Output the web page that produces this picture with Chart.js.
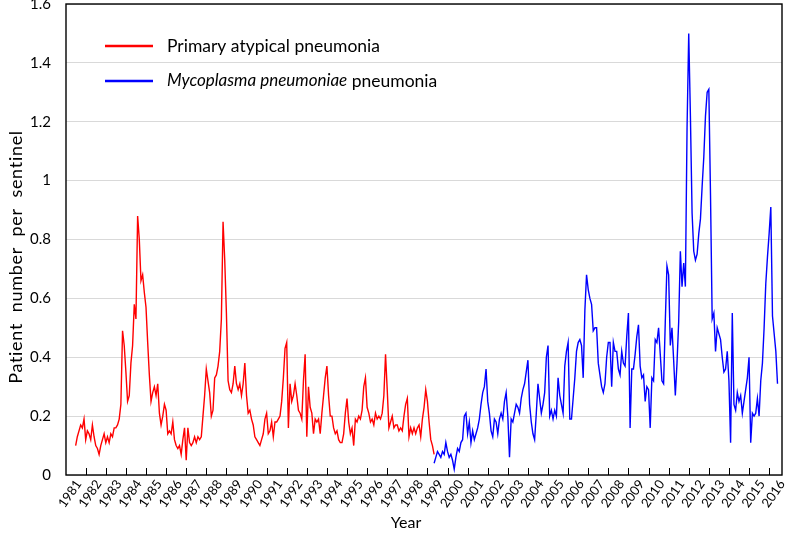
<!DOCTYPE html>
<html>
<head>
<meta charset="utf-8">
<script src="https://cdn.jsdelivr.net/npm/chart.js@4"></script>
<style>
  html, body { margin: 0; padding: 0; background: #fff; }
  #wrap { width: 787px; height: 548px; position: relative; }
</style>
</head>
<body>
<div id="wrap"><canvas id="chart"></canvas></div>
<script>
var yearLabels = ['1981', '1982', '1983', '1984', '1985', '1986', '1987', '1988', '1989', '1990',
  '1991', '1992', '1993', '1994', '1995', '1996', '1997', '1998', '1999', '2000',
  '2001', '2002', '2003', '2004', '2005', '2006', '2007', '2008', '2009', '2010',
  '2011', '2012', '2013', '2014', '2015', '2016'];
var yTicks = [0, 0.2, 0.4, 0.6, 0.8, 1, 1.2, 1.4, 1.6];

var redName = 'Primary atypical pneumonia';
var redStart = 1981;
var redValues = [
  0.10, 0.13, 0.15, 0.17, 0.16, 0.19, 0.12, 0.15, 0.14, 0.12, 0.17, 0.13, // 1981
  0.10, 0.09, 0.07, 0.10, 0.12, 0.14, 0.11, 0.13, 0.11, 0.14, 0.13, 0.16, // 1982
  0.16, 0.17, 0.19, 0.24, 0.49, 0.44, 0.35, 0.25, 0.27, 0.38, 0.44, 0.58, // 1983
  0.53, 0.88, 0.80, 0.66, 0.68, 0.62, 0.57, 0.45, 0.34, 0.25, 0.28, 0.30, // 1984
  0.27, 0.31, 0.21, 0.17, 0.20, 0.24, 0.22, 0.14, 0.15, 0.14, 0.18, 0.12, // 1985
  0.10, 0.09, 0.10, 0.07, 0.12, 0.16, 0.05, 0.16, 0.11, 0.10, 0.11, 0.13, // 1986
  0.11, 0.13, 0.12, 0.13, 0.20, 0.27, 0.36, 0.32, 0.28, 0.20, 0.22, 0.33, // 1987
  0.34, 0.37, 0.42, 0.53, 0.86, 0.73, 0.55, 0.32, 0.29, 0.28, 0.31, 0.37, // 1988
  0.31, 0.29, 0.31, 0.27, 0.31, 0.38, 0.27, 0.21, 0.22, 0.19, 0.17, 0.13, // 1989
  0.12, 0.11, 0.10, 0.12, 0.14, 0.19, 0.21, 0.14, 0.15, 0.18, 0.13, 0.18, // 1990
  0.18, 0.19, 0.20, 0.25, 0.33, 0.43, 0.45, 0.16, 0.31, 0.25, 0.27, 0.31, // 1991
  0.27, 0.22, 0.21, 0.19, 0.32, 0.41, 0.13, 0.30, 0.23, 0.21, 0.14, 0.19, // 1992
  0.18, 0.19, 0.14, 0.21, 0.27, 0.33, 0.37, 0.27, 0.20, 0.20, 0.16, 0.14, // 1993
  0.15, 0.12, 0.11, 0.11, 0.14, 0.21, 0.26, 0.18, 0.14, 0.16, 0.10, 0.19, // 1994
  0.18, 0.20, 0.19, 0.22, 0.30, 0.33, 0.23, 0.21, 0.18, 0.19, 0.17, 0.21, // 1995
  0.19, 0.20, 0.19, 0.21, 0.27, 0.41, 0.29, 0.16, 0.18, 0.20, 0.16, 0.17, // 1996
  0.17, 0.15, 0.16, 0.15, 0.20, 0.24, 0.26, 0.13, 0.16, 0.14, 0.16, 0.14, // 1997
  0.16, 0.17, 0.13, 0.19, 0.23, 0.29, 0.25, 0.18, 0.12, 0.10, 0.07        // 1998
];

var blueName = 'Mycoplasma pneumoniae';
var blueStart = 1998 + 10 / 12;
var blueValues = [
  0.04, 0.06, 0.08, 0.07, 0.06, 0.08, 0.07, 0.11, 0.08, 0.06,
  0.07, 0.05, 0.02, 0.06, 0.09, 0.08, 0.11, 0.12, 0.20, 0.21,
  0.14, 0.18, 0.11, 0.15, 0.12, 0.14, 0.16, 0.19, 0.24, 0.28,
  0.30, 0.36, 0.25, 0.21, 0.15, 0.13, 0.19, 0.18, 0.14, 0.19,
  0.21, 0.19, 0.25, 0.28, 0.20, 0.06, 0.19, 0.18, 0.21, 0.24,
  0.23, 0.21, 0.26, 0.29, 0.31, 0.35, 0.39, 0.24, 0.18, 0.14,
  0.12, 0.21, 0.31, 0.26, 0.21, 0.24, 0.28, 0.40, 0.44, 0.20,
  0.22, 0.19, 0.22, 0.20, 0.33, 0.27, 0.24, 0.21, 0.37, 0.42,
  0.45, 0.19, 0.19, 0.26, 0.33, 0.42, 0.45, 0.46, 0.44, 0.33,
  0.56, 0.68, 0.63, 0.60, 0.58, 0.49, 0.50, 0.50, 0.38, 0.34,
  0.30, 0.28, 0.31, 0.40, 0.45, 0.45, 0.30, 0.45, 0.42, 0.42,
  0.36, 0.34, 0.42, 0.38, 0.37, 0.47, 0.55, 0.16, 0.36, 0.36,
  0.41, 0.47, 0.51, 0.37, 0.33, 0.34, 0.25, 0.30, 0.29, 0.16,
  0.33, 0.32, 0.46, 0.45, 0.50, 0.41, 0.32, 0.31, 0.52, 0.71,
  0.68, 0.44, 0.50, 0.39, 0.27, 0.38, 0.52, 0.76, 0.64, 0.72,
  0.64, 1.18, 1.50, 1.22, 0.89, 0.76, 0.73, 0.75, 0.82, 0.87,
  0.98, 1.08, 1.22, 1.30, 1.31, 0.95, 0.53, 0.55, 0.42, 0.50,
  0.48, 0.46, 0.40, 0.35, 0.36, 0.42, 0.32, 0.11, 0.55, 0.24,
  0.22, 0.28, 0.25, 0.27, 0.21, 0.25, 0.29, 0.33, 0.40, 0.11,
  0.21, 0.20, 0.21, 0.26, 0.20, 0.32, 0.38, 0.50, 0.65, 0.74,
  0.82, 0.91, 0.54, 0.48, 0.42, 0.31
];

var FONT = 'Lato, "Open Sans", sans-serif';

function toPoints(start, values) {
  return values.map(function (v, i) { return { x: start + i / 12, y: v }; });
}

// frame, inward tick marks, legend and axis titles
var decoPlugin = {
  id: 'deco',
  afterDraw: function (chart) {
    var ctx = chart.ctx, a = chart.chartArea, xs = chart.scales.x;
    ctx.save();
    // inward ticks between years
    ctx.strokeStyle = '#000';
    ctx.lineWidth = 1;
    ctx.beginPath();
    yearLabels.forEach(function (l) {
      var px = Math.round(xs.getPixelForValue(Number(l) + 0.5)) + 0.5;
      if (px >= a.right - 1) return;
      ctx.moveTo(px, a.bottom);
      ctx.lineTo(px, a.bottom - 7);
    });
    ctx.stroke();
    // box
    ctx.lineWidth = 1.4;
    ctx.strokeRect(a.left, a.top, a.right - a.left, a.bottom - a.top);

    // legend
    ctx.lineWidth = 2.5;
    ctx.strokeStyle = '#ff0000';
    ctx.beginPath(); ctx.moveTo(a.left + 39, a.top + 42); ctx.lineTo(a.left + 87, a.top + 42); ctx.stroke();
    ctx.strokeStyle = '#0000ff';
    ctx.beginPath(); ctx.moveTo(a.left + 39, a.top + 77); ctx.lineTo(a.left + 87, a.top + 77); ctx.stroke();
    ctx.fillStyle = '#000';
    ctx.textBaseline = 'middle';
    ctx.textAlign = 'left';
    ctx.font = '17.5px ' + FONT;
    ctx.fillText(redName, a.left + 101, a.top + 42);
    ctx.font = 'italic 17px ' + FONT;
    ctx.fillText(blueName, a.left + 101, a.top + 77);
    var w = ctx.measureText(blueName).width;
    ctx.font = '17.5px ' + FONT;
    ctx.fillText(' pneumonia', a.left + 101 + w, a.top + 77);

    // axis titles
    ctx.textAlign = 'center';
    ctx.font = '16px ' + FONT;
    ctx.fillText('Year', a.left + 340, a.bottom + 48);
    ctx.translate(16, a.top + 253);
    ctx.rotate(-Math.PI / 2);
    ctx.font = '18px ' + FONT;
    ctx.letterSpacing = '0.7px';
    ctx.fillText('Patient  number  per  sentinel', 0, 0);
    ctx.restore();
  }
};

new Chart(document.getElementById('chart'), {
  type: 'line',
  data: {
    datasets: [
      { label: redName, data: toPoints(redStart, redValues), borderColor: '#ff0000', borderWidth: 1.4, pointRadius: 0, fill: false, tension: 0 },
      { label: blueName + ' pneumonia', data: toPoints(blueStart, blueValues), borderColor: '#0000ff', borderWidth: 1.4, pointRadius: 0, fill: false, tension: 0 }
    ]
  },
  options: {
    responsive: true,
    maintainAspectRatio: false,
    animation: false,
    events: [],
    layout: { padding: { top: 4, right: 5, left: 0, bottom: 0 } },
    plugins: { legend: { display: false }, tooltip: { enabled: false } },
    scales: {
      x: {
        type: 'linear',
        min: 1980.52,
        max: 2016.14,
        afterBuildTicks: function (axis) {
          axis.ticks = yearLabels.map(function (l) { return { value: Number(l) }; });
        },
        afterFit: function (s) { s.height = 73; },
        grid: { display: false },
        border: { display: false },
        ticks: {
          autoSkip: false,
          minRotation: 55,
          maxRotation: 55,
          padding: -6,
          labelOffset: 3,
          color: '#000',
          font: { family: FONT, size: 13 },
          callback: function (v, i) { return yearLabels[i]; }
        }
      },
      y: {
        min: 0,
        max: 1.6,
        afterBuildTicks: function (axis) {
          axis.ticks = yTicks.map(function (v) { return { value: v }; });
        },
        afterFit: function (s) { s.width = 66; s.paddingTop = 0; s.paddingBottom = 0; },
        grid: { color: '#d9d9d9', lineWidth: 1, drawTicks: false },
        border: { display: false },
        ticks: {
          padding: 15,
          color: '#000',
          font: { family: FONT, size: 15 },
          callback: function (v) { return String(+v.toFixed(1)); }
        }
      }
    }
  },
  plugins: [decoPlugin]
});
</script>
</body>
</html>
